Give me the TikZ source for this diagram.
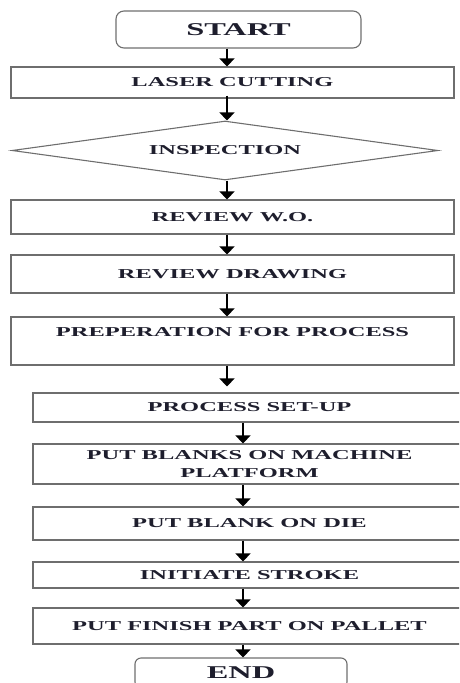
\documentclass[tikz,border=0pt]{standalone}
\usepackage{fontspec}
\setmainfont{Liberation Serif}[FakeStretch=1.8]
\usepackage{tikz}
\usetikzlibrary{shapes.geometric,arrows.meta}

\definecolor{boxline}{RGB}{110,110,110}
\definecolor{txtcol}{RGB}{30,30,45}

\begin{document}
\begin{tikzpicture}[x=1pt,y=-1pt,
    box/.style={draw=boxline,line width=1.1pt,minimum width=443pt,inner sep=0pt,align=center,
      font=\fontsize{13.6}{18}\selectfont\bfseries,text=txtcol},
    lowbox/.style={box,minimum width=433pt},
    term/.style={box,rounded corners=8pt,font=\fontsize{18}{22}\selectfont\bfseries},
    arr/.style={-{Triangle[width=15pt,length=8pt]},line width=1.3pt,black}]
      \useasboundingbox (0,0) rectangle (459,683);
      \clip (0,0) rectangle (459,683);
      \coordinate (colA) at (227,0);
      \coordinate (colB) at (243,0);
      \node[term,minimum width=245pt,minimum height=37pt] (start) at (238.5,29.5) {START};
      \node[box,minimum height=31pt] (laser) at (232.5,82.5) {LASER CUTTING};
      \node[box,diamond,aspect=7.2,minimum width=426pt,minimum height=59pt] (insp) at (225,150.5) {INSPECTION};
      \node[box,minimum height=34pt] (wo) at (232.5,217) {REVIEW W.O.};
      \node[box,minimum height=38pt] (drw) at (232.5,274) {REVIEW DRAWING};
      \node[box,minimum height=48pt] (prep) at (232.5,341) {PREPERATION FOR PROCESS\\\mbox{}};
      \node[lowbox,minimum height=29pt] (setup) at (249.5,407.5) {PROCESS SET-UP};
      \node[lowbox,minimum height=40pt] (blanks) at (249.5,464) {PUT BLANKS ON MACHINE\\PLATFORM};
      \node[lowbox,minimum height=33pt] (die) at (249.5,523.5) {PUT BLANK ON DIE};
      \node[lowbox,minimum height=26pt] (stroke) at (249.5,575) {INITIATE STROKE};
      \node[lowbox,minimum height=36pt] (finish) at (249.5,626) {PUT FINISH PART ON PALLET};
      \node[term,rounded corners=6pt,minimum width=212pt,minimum height=30pt] (fin) at (241,673) {END};
      \draw[arr] (start.south -| colA) -- (laser.north -| colA);
      \draw[arr] ([yshift=3pt]laser.south -| colA) -- (insp.north -| colA);
      \draw[arr] (insp.south -| colA) -- (wo.north -| colA);
      \draw[arr] (wo.south -| colA) -- (drw.north -| colA);
      \draw[arr] (drw.south -| colA) -- (prep.north -| colA);
      \draw[arr,shorten >=6pt] (prep.south -| colA) -- (setup.north -| colA);
      \draw[arr] (setup.south -| colB) -- (blanks.north -| colB);
      \draw[arr] (blanks.south -| colB) -- (die.north -| colB);
      \draw[arr] (die.south -| colB) -- (stroke.north -| colB);
      \draw[arr] (stroke.south -| colB) -- (finish.north -| colB);
      \draw[arr] (finish.south -| colB) -- (fin.north -| colB);
\end{tikzpicture}
\end{document}
